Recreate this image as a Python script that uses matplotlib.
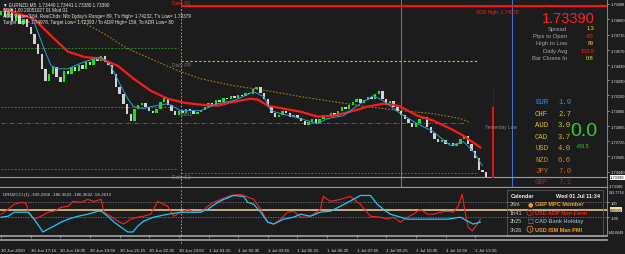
import matplotlib
matplotlib.use("Agg")
import matplotlib.pyplot as plt
from matplotlib.lines import Line2D
from matplotlib.patches import Rectangle
from matplotlib.transforms import blended_transform_factory

plt.rcParams["font.family"] = ["Liberation Sans", "DejaVu Sans"]

# ---------------- data (EURNZD M5, 30 Jun 15:55 -> 1 Jul) ----------------
# one close every 10 minutes
closes = [
    1.74935, 1.74879, 1.74953, 1.74842, 1.74907, 1.74814, 1.74861, 1.74786, 1.74722, 1.74629,
    1.74536, 1.74397, 1.74286, 1.74351, 1.74416, 1.74323, 1.74277, 1.74379, 1.74351, 1.74416,
    1.74379, 1.74434, 1.74397, 1.74462, 1.74434, 1.74490, 1.74471, 1.74518, 1.74462, 1.74434,
    1.74351, 1.74230, 1.74165, 1.74073, 1.73980, 1.73915, 1.74026, 1.74063, 1.74082, 1.74045,
    1.74008, 1.73989, 1.74026, 1.74091, 1.74128, 1.74063, 1.74008, 1.73971, 1.74008, 1.73989,
    1.74026, 1.74008, 1.73980, 1.73998, 1.74017, 1.74045, 1.74082, 1.74063, 1.74110, 1.74091,
    1.74128, 1.74119, 1.74147, 1.74128, 1.74156, 1.74147, 1.74175, 1.74165, 1.74212, 1.74230,
    1.74175, 1.74119, 1.74045, 1.73989, 1.73952, 1.73971, 1.74008, 1.73989, 1.73952, 1.73971,
    1.73943, 1.73915, 1.73878, 1.73906, 1.73934, 1.73897, 1.73934, 1.73971, 1.73952, 1.73989,
    1.73961, 1.74008, 1.74045, 1.74026, 1.74063, 1.74091, 1.74119, 1.74082, 1.74110, 1.74138,
    1.74119, 1.74165, 1.74193, 1.74119, 1.74082, 1.74100, 1.74045, 1.74008, 1.73971, 1.73934,
    1.73897, 1.73859, 1.73897, 1.73934, 1.73952, 1.73859, 1.73804, 1.73748, 1.73720, 1.73739,
    1.73702, 1.73711, 1.73683, 1.73702, 1.73748, 1.73776, 1.73702, 1.73637, 1.73563, 1.73452,
    1.73440, 1.73390,
]
first_open = 1.74900

# moving averages (minutes since 30 Jun 15:55, price)
slow_ma_t = [8, 89, 135, 181, 224, 270, 315, 358, 404, 450, 493, 539, 585, 628, 674, 693,
             720, 763, 809, 854, 897, 943, 989, 1032, 1059, 1078, 1124, 1167, 1213, 1248, 1294]
slow_ma = [1.74953, 1.74861, 1.74703, 1.74555, 1.74508, 1.74490, 1.74425, 1.74304, 1.74193,
           1.74119, 1.74082, 1.74063, 1.74054, 1.74091, 1.74119, 1.74110, 1.74054, 1.74026,
           1.73998, 1.73952, 1.73961, 1.73998, 1.74045, 1.74073, 1.74063, 1.74045, 1.73961,
           1.73915, 1.73841, 1.73776, 1.73665]
fast_ma_t = [75, 89, 116, 135, 154, 181, 224, 270, 296, 323, 342, 358, 385, 404, 450, 485,
             539, 585, 628, 682, 709, 728, 755, 790, 827, 854, 881, 924, 970, 1005, 1032,
             1078, 1124, 1167, 1213, 1248, 1275, 1299]
fast_ma = [1.74907, 1.74833, 1.74583, 1.74425, 1.74397, 1.74397, 1.74462, 1.74508, 1.74425,
           1.74239, 1.74119, 1.74045, 1.74026, 1.74045, 1.74073, 1.74008, 1.74008, 1.74073,
           1.74100, 1.74184, 1.74138, 1.74008, 1.73980, 1.73952, 1.73915, 1.73887, 1.73934,
           1.73961, 1.74073, 1.74147, 1.74100, 1.73980, 1.73887, 1.73813, 1.73683, 1.73720,
           1.73628, 1.73498]
long_ma_t = [175, 270, 342, 404, 485, 539, 628, 720, 809, 897, 989, 1078, 1167, 1240, 1267]
long_ma = [1.74907, 1.74740, 1.74583, 1.74490, 1.74369, 1.74304, 1.74240, 1.74193, 1.74138,
           1.74091, 1.74045, 1.74008, 1.73980, 1.73934, 1.73897]

# levels
adr_high = 1.74978
daily_pp = 1.74471
daily_s1 = 1.73424
prev_levels = [1.74592, 1.74045, 1.73470]
yesterday_low = 1.73897
last_price = 1.73390
today_high = 1.74232
today_low = 1.73379
range_mid = 1.74045

day_start = 485          # 1 Jul 00:00
session_line = 1081
now_line = 1380
range_bar_t = 1329
x_end = 1636

price_ticks = [1.75000, 1.74860, 1.74715, 1.74570, 1.74430, 1.74290, 1.74150, 1.74005,
               1.73865, 1.73725, 1.73585, 1.73440]

# CCI panel
cci_t = [0, 19, 35, 54, 67, 75, 89, 108, 127, 143, 162, 181, 194, 216, 234, 251, 270, 278, 296,
         315, 331, 350, 369, 385, 404, 423, 439, 450, 466, 485, 504, 520, 539, 558, 574, 593, 620,
         647, 682, 701, 720, 736, 755, 773, 790, 809, 827, 844, 862, 870, 889, 916, 943, 970, 997,
         1024, 1043, 1059, 1078, 1097, 1113, 1132, 1151, 1167, 1186, 1205, 1221, 1234, 1245, 1253,
         1261, 1272, 1286, 1294]
cci = [-60, 7, 73, 100, 87, -33, -127, -87, -33, -20, 33, 47, 113, 100, 140, 113, 140, -33, -87,
       -153, -193, -127, -100, -87, -60, 113, 73, 47, -87, -33, 7, -33, -33, 47, 100, 140, 193,
       207, 140, 7, -167, -193, -127, -33, -20, -100, -100, -60, 7, 180, 113, 140, 180, 73, -87,
       -100, -127, -100, -167, -100, -60, 7, -60, -60, -33, -20, -33, 47, 207, -33, -233, -287,
       -193, -127]
cci2_t = [0, 19, 35, 54, 73, 89, 102, 113, 127, 143, 162, 181, 208, 234, 261, 270, 288, 305, 323,
          342, 356, 369, 385, 412, 450, 485, 520, 539, 558, 585, 601, 628, 655, 666, 682, 701, 720,
          736, 763, 790, 809, 835, 862, 889, 916, 951, 970, 997, 1016, 1032, 1051, 1070, 1097,
          1132, 1167, 1205, 1240, 1259, 1275, 1294]
cci2 = [-100, -87, -33, -33, -33, -127, -220, -300, -260, -220, -167, -127, -87, -60, -20, -20,
        -87, -167, -233, -300, -300, -220, -153, -100, -60, -33, -33, -33, 7, 100, 140, 193, 180,
        100, 73, -33, -167, -193, -127, -100, -60, -87, -33, -20, 47, 140, 193, 193, 73, 7, -60,
        -87, -127, -127, -127, -127, -100, -153, -193, -167]
cci_max, cci_min = 293.7716, -340.6649

time_ticks = [0, 80, 160, 240, 320, 400, 480, 560, 640, 720, 800, 880, 960, 1040, 1120, 1200, 1280]
time_labels = ["30 Jun 2020", "30 Jun 17:15", "30 Jun 18:35", "30 Jun 19:55", "30 Jun 21:15",
               "30 Jun 22:35", "30 Jun 23:55", "1 Jul 01:15", "1 Jul 02:35", "1 Jul 03:55",
               "1 Jul 05:15", "1 Jul 06:35", "1 Jul 07:55", "1 Jul 09:15", "1 Jul 10:35",
               "1 Jul 11:55", "1 Jul 13:15"]

currencies = ["EUR", "CHF", "AUD", "CAD", "USD", "NZD", "JPY", "GBP"]
strength = ["1.9", "2.7", "3.0", "3.7", "4.0", "6.6", "7.0", "7.1"]
info_names = ["Spread", "Pips to Open", "High to Low", "Daily Avg", "Bar Closes In"]
info_values = ["1.3", "-65", "89", "153.8", "0:8"]
cal_times = ["26m", "1h41", "2h25", "3h26"]
cal_events = ["GBP MPC Member", "USD ADP Non-Farm", "CAD Bank Holiday", "USD ISM Man PMI"]

# ---------------- drawing ----------------
W, H = 625, 255
BG = "#1c1c1c"
AXFS = 2.9   # right axis label size


def fx(x):
    return x / W


def fy(y):
    return 1 - y / H


fig = plt.figure(figsize=(W / 100, H / 100), dpi=100, facecolor=BG)
ax = fig.add_axes([0, fy(188), fx(607), 188 / H], facecolor=BG)
axo = fig.add_axes([0, fy(236), fx(607), 47 / H], facecolor=BG)

for a in (ax, axo):
    for s in a.spines.values():
        s.set_visible(False)
    a.spines["right"].set_visible(True)
    a.spines["right"].set_color("#9a9a9a")
    a.spines["right"].set_linewidth(0.6)
    a.set_xlim(-3, x_end)
ax.spines["bottom"].set_visible(True)
ax.spines["bottom"].set_color("#9a9a9a")
ax.spines["bottom"].set_linewidth(0.9)

ax.set_ylim(1.73298, 1.75046)

# candles
ct = [10 * i for i in range(len(closes))]
opens = [first_open] + closes[:-1]
heights = [c - o for o, c in zip(opens, closes)]
cols = ["#19e619" if c >= o else "#d4d4d4" for o, c in zip(opens, closes)]
ax.bar(ct, heights, bottom=opens, width=6.5, color=cols, linewidth=0, zorder=3)

# moving averages
ax.plot(long_ma_t, long_ma, color="#a67c1e", lw=0.8, ls=(0, (1.5, 1.5)), zorder=2)
ax.plot(slow_ma_t, slow_ma, color="#ff1a1a", lw=1.6, zorder=4)
ax.plot(fast_ma_t, fast_ma, color="#2a9fd6", lw=0.7, zorder=4)

# levels
ax.hlines(adr_high, day_start, x_end, color="#ff1010", lw=1.5, zorder=2)
for p in prev_levels:
    ax.hlines(p, 0, day_start - 8, color="#2fa82f", lw=0.6, ls=(0, (2, 2)), zorder=1)
ax.hlines(daily_pp, day_start, 1288, color="#e0d000", lw=0.8, ls=(0, (2, 2)), zorder=1)
ax.hlines(daily_s1, day_start, 1288, color="#2fa82f", lw=0.6, ls=(0, (2, 2)), zorder=1)
ax.hlines(yesterday_low, 0, 1250, color="#6e6e6e", lw=0.6, ls=(0, (5, 2, 1, 2)), zorder=1)
ax.axhline(last_price, color="#a0a0a0", lw=0.8, zorder=2)

# vertical lines
for a in (ax, axo):
    a.axvline(day_start, color="#b4b4b4", lw=0.6, ls=(0, (2, 2)), zorder=1)
ax.axvline(session_line, color="#c8643a", lw=0.7, zorder=1)
ax.axvline(now_line, color="#3c78d8", lw=0.7, zorder=1)
ax.vlines(range_bar_t, range_mid, today_high, color="#8b0000", lw=0.8, zorder=2)
ax.vlines(range_bar_t, today_low, range_mid, color="#e81010", lw=1.5, zorder=2)

# right price axis
ax.yaxis.tick_right()
ax.set_yticks(price_ticks)
ax.set_yticklabels([f"{p:.5f}" for p in price_ticks])
ax.tick_params(axis="y", colors="#c8c8c8", labelcolor="#e6e6e6", labelsize=AXFS,
               length=1.5, width=0.5, pad=1.0)
ax.tick_params(axis="x", bottom=False, labelbottom=False)
tr = blended_transform_factory(ax.transAxes, ax.transData)
ax.text(1.005, last_price, f"{last_price:.5f}", transform=tr, fontsize=AXFS, color="black",
        va="center", ha="left",
        bbox=dict(boxstyle="square,pad=0.1", fc="white", ec="none"))
fig.text(fx(609), fy(187.5), "1.73300", fontsize=AXFS, color="#e6e6e6", va="center")

# level labels
fig.text(fx(181), fy(3), "Daily R1", fontsize=3.5, color="#ff2020", ha="center", va="center")
fig.text(fx(497), fy(12.5), "ADR High: 1.74978", fontsize=3.5, color="#ff2020",
         ha="center", va="center")
fig.text(fx(181), fy(65), "Daily PP", fontsize=3.5, color="#7a7a7a", ha="center", va="center")
fig.text(fx(186), fy(115), "Start1", fontsize=3.5, color="#7a7a7a", ha="center", va="center")
fig.text(fx(181), fy(178), "Daily S1", fontsize=3.5, color="#6f8a6f", ha="center", va="center")
fig.text(fx(501), fy(127), "Yesterday Low", fontsize=3.5, color="#8a8a8a", ha="center",
         va="center")

# top-left info
info_lines = ["\u25bc EURNZD,M5  1.73440 1.73441 1.73380 1.73390",
              "ADR 1.00 20051027 01 Mod 01",
              "ADR Value= 164, RealChdx: No, Today's Range= 89, T's High= 1.74232, T's Low= 1.73379",
              "Target High= 1.74978, Target Low= 1.72393 / To ADR High= 159, To ADR Low= 80"]
for i, line in enumerate(info_lines):
    fig.text(fx(3), fy(5 + i * 5.7), line, fontsize=3.3, color="#e8e8e8", va="center")

# top-right panel
fig.text(fx(595), fy(19), f"{last_price:.5f}", fontsize=10.5, color="#ff2020",
         ha="right", va="center")
val_cols = ["#f0e030", "#ff2020", "#f0e030", "#ff2020", "#f0e030"]
for i, (n, v) in enumerate(zip(info_names, info_values)):
    y = 29 + i * 7.4
    fig.text(fx(567), fy(y), n, fontsize=4.2, color="#a8a8a8", ha="right", va="center")
    fig.text(fx(594), fy(y), v, fontsize=4.0, color=val_cols[i], ha="right", va="center")

cur_cols = ["#2f8fff", "#cfcf2a", "#d6c82a", "#d4be2a", "#d0b02a", "#d88a2a", "#c8702a", "#cc1a1a"]
for i, (c, s) in enumerate(zip(currencies, strength)):
    y = 103 + i * 11.4
    fig.text(fx(535), fy(y), c, fontsize=5.2, color=cur_cols[i], family="Liberation Mono",
             va="center")
    fig.text(fx(558), fy(y), s, fontsize=5.2, color=cur_cols[i], family="Liberation Mono",
             va="center")
fig.text(fx(584), fy(132), "0.0", fontsize=14, color="#33cc33", ha="center", va="center")
fig.text(fx(583), fy(147), "+59.5", fontsize=4.0, color="#33cc33", ha="center", va="center")

# ---------------- CCI panel ----------------
axo.set_ylim(cci_min, cci_max)
axo.axhline(100, color="#7a7a7a", lw=0.6, ls=(0, (1.5, 1.5)), zorder=1)
axo.axhline(-100, color="#7a7a7a", lw=0.6, ls=(0, (1.5, 1.5)), zorder=1)
axo.axhline(0, color="#e6c48a", lw=1.2, zorder=1)
axo.plot(cci_t, cci, color="#ff2020", lw=0.8, zorder=3)
axo.plot(cci2_t, cci2, color="#1ec8ff", lw=0.9, zorder=3)
axo.yaxis.tick_right()
axo.set_yticks([100, -100])
axo.set_yticklabels(["100", "-100"])
axo.tick_params(axis="y", colors="#c8c8c8", labelcolor="#e6e6e6", labelsize=AXFS,
                length=1.5, width=0.5, pad=1.0)
tro = blended_transform_factory(axo.transAxes, axo.transData)
axo.text(1.005, 0, "0.0000", transform=tro, fontsize=AXFS, color="black", va="center",
         bbox=dict(boxstyle="square,pad=0.1", fc="#f2dfa8", ec="none"))
fig.text(fx(609), fy(193.5), f"{cci_max:.4f}", fontsize=2.7, color="#e6e6e6", va="center")
fig.text(fx(608), fy(233), f"{cci_min:.4f}", fontsize=2.6, color="#e6e6e6", va="center")
fig.text(fx(3), fy(195), "DRNZCCI (1) -100.2266 -186.3622 -186.3622 -56.2613", fontsize=3.2,
         color="#d8d8d8", va="center")

# time axis
axo.set_xticks(time_ticks)
axo.set_xticklabels(time_labels, ha="left")
axo.tick_params(axis="x", colors="#a0a0a0", labelcolor="#e6e6e6", labelsize=3.2,
                length=2, width=0.5, pad=7.5)

for y in (237.3, 240.5):
    fig.add_artist(Line2D([0, fx(607)], [fy(y), fy(y)], transform=fig.transFigure,
                          color="#b0b0b0", lw=1.1))
trt = blended_transform_factory(axo.transData, fig.transFigure)
fig.add_artist(Line2D([day_start, day_start], [fy(236), fy(246)], transform=trt,
                      color="#b4b4b4", lw=0.6, ls=(0, (2, 2))))

# calendar box
fig.add_artist(Rectangle((fx(507), fy(237)), fx(603) - fx(507), fy(191) - fy(237),
                         transform=fig.transFigure, fill=False, ec="#5a5a5a", lw=0.6))
fig.text(fx(511), fy(197), "Calendar", fontsize=4, color="#f0f0f0", weight="bold",
         va="center")
fig.text(fx(600), fy(197), "Wed 01 Jul 11:34", fontsize=4, color="#f0f0f0", weight="bold",
         ha="right", va="center")
ev_cols = ["#f0a020", "#ff2020", "#8c9aa8", "#f0a020"]
icons = ["\u25cf", "!", "\u25a1", "!"]
for i, (tm, ev) in enumerate(zip(cal_times, cal_events)):
    y = 205 + i * 8.4
    fig.text(fx(510), fy(y), tm, fontsize=4, color="#c8c8c8", va="center")
    if icons[i] == "!":
        fig.text(fx(530), fy(y), "!", fontsize=3, color=ev_cols[i], ha="center", va="center",
                 weight="bold",
                 bbox=dict(boxstyle="circle,pad=0.25", fc="none", ec=ev_cols[i], lw=0.5))
    else:
        fig.text(fx(530), fy(y), icons[i], fontsize=4.5, color=ev_cols[i], ha="center",
                 va="center", family="DejaVu Sans")
    fig.text(fx(535), fy(y), ev, fontsize=4, color=ev_cols[i], weight="bold", va="center")

fig.savefig("out.png", dpi=100, facecolor=BG)
